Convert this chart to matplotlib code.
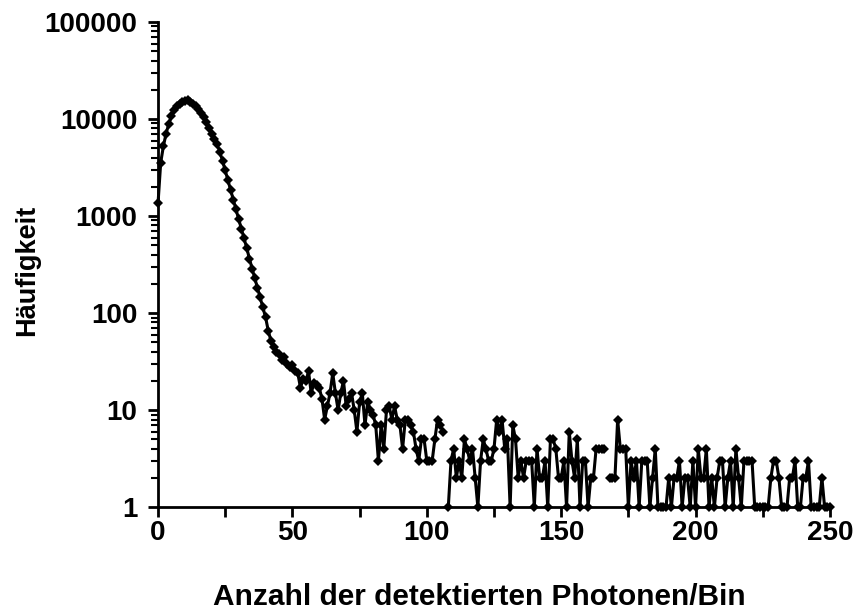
import numpy as np
import matplotlib
matplotlib.use("Agg")
import matplotlib.pyplot as plt
import matplotlib.ticker as mticker

INK = "#000000"

plt.rcParams.update({
    "font.family": ["Liberation Sans", "DejaVu Sans"],
    "font.weight": "bold",
    "font.size": 20,
})

# photon count per bin (x) and how often it occurred (y); NaN = zero count (gap on log axis)
counts_peak = [
    1350, 3550, 5250, 7080, 8900, 10700, 12300, 13500, 14450, 15100,
    15500, 15600, 15100, 14450, 13500, 12600, 11500, 10500, 9330, 8130,
    7080, 6170, 5500, 4570, 3720, 2950, 2340, 1860, 1480, 1170,
    930, 740, 590, 470, 363, 288, 229, 182, 145, 115,
    91, 66, 52,
]
counts_mid = [
    45, 40, 38, 33, 35, 30, 28, 29, 25, 24,          # 43-52
    17, 21, 20, 25, 15, 19, 18, 17, 13, 8,           # 53-62
    11, 15, 24, 15, 10, 15, 20, 11, 13, 15,          # 63-72
    10, 6, 12, 15, 7, 12, 10, 9, 7, 3,              # 73-82
    7, 4, 10, 11, 8, 11, 8, 7, 4, 8,                # 83-92
    8, 7, 6, 4, 3, 5, 5, 3, 3, 3,                   # 93-102
    5, 8, 7, 6, np.nan,                              # 103-107
]
counts_tail = [
    1, 3, 4, 2, 3, 2, 5, 4, 3, 4,                   # 108-117
    2, 1, 3, 5, 4, 3, 3, 4, 8, 6,                   # 118-127
    8, 4, 5, 1, 7, 5, 2, 3, 2, 3,                   # 128-137
    3, 3, 1, 4, 2, 2, 3, 1, 5, 5,                   # 138-147
    4, 2, 2, 3, 1, 6, 3, 2, 5, 1,                   # 148-157
    3, 3, 1, 2, 2, 4, 4, 4, 4, np.nan,              # 158-167
    2, 2, 2, 8, 4, 4, 4, 1, 3, 2,                   # 168-177
    3, 1, 3, 3, 3, 1, 2, 4, 1, 1,                   # 178-187
    1, 1, 2, 1, 2, 2, 3, 1, 2, 2,                   # 188-197
    1, 3, 1, 4, 2, 2, 4, 1, 2, 1,                   # 198-207
    2, 3, 3, 1, 2, 3, 1, 4, 2, 1,                   # 208-217
    3, 3, 3, 3, 1, 1, 1, 1, 1, 1,                   # 218-227
    2, 3, 3, 2, 1, 1, 1, 2, 2, 3,                   # 228-237
    1, 1, 2, 2, 3, 1, 1, 1, 1, 2,                   # 238-247
    1, 1, 1,                                         # 248-250
]
frequency = np.array(counts_peak + counts_mid + counts_tail, dtype=float)
photons = np.arange(len(frequency))

y_ticks = [1, 10, 100, 1000, 10000, 100000]
x_ticks = [0, 50, 100, 150, 200, 250]

fig = plt.figure(figsize=(8.56, 6.11), dpi=100)
ax = fig.add_axes([0.1846, 0.170, 0.785, 0.794])

ax.plot(photons, frequency, color=INK, linewidth=2.2, marker="D",
        markersize=5.5, markeredgewidth=0, clip_on=False, zorder=3)

ax.set_yscale("log")
ax.set_ylim(1, 100000)
ax.set_xlim(0, 250)

ax.yaxis.set_major_locator(mticker.FixedLocator(y_ticks))
ax.yaxis.set_major_formatter(mticker.FuncFormatter(lambda v, _: f"{int(v)}"))
ax.yaxis.set_minor_locator(mticker.LogLocator(base=10, subs=range(2, 10)))
ax.yaxis.set_minor_formatter(mticker.NullFormatter())
ax.xaxis.set_major_locator(mticker.FixedLocator(x_ticks))
ax.xaxis.set_minor_locator(mticker.MultipleLocator(25))

for side in ("top", "right"):
    ax.spines[side].set_visible(False)
for side in ("left", "bottom"):
    ax.spines[side].set_linewidth(2.0)
    ax.spines[side].set_color(INK)

ax.tick_params(axis="both", which="major", direction="out", length=7,
               width=2, colors=INK, labelsize=20)
ax.tick_params(axis="x", which="major", pad=2)
ax.tick_params(axis="y", which="major", pad=8)
ax.tick_params(axis="y", which="minor", direction="out", length=5, width=1.5)
ax.tick_params(axis="x", which="minor", direction="out", length=7, width=2)

ax.set_xlabel("Anzahl der detektierten Photonen/Bin", fontsize=21.5,
              fontweight="bold", va="center")
ax.set_ylabel("Häufigkeit", fontsize=19.5, fontweight="bold", va="center")
ax.xaxis.set_label_coords(0.478, -0.186)
ax.yaxis.set_label_coords(-0.195, 0.487)

fig.savefig("out.png", dpi=100)
